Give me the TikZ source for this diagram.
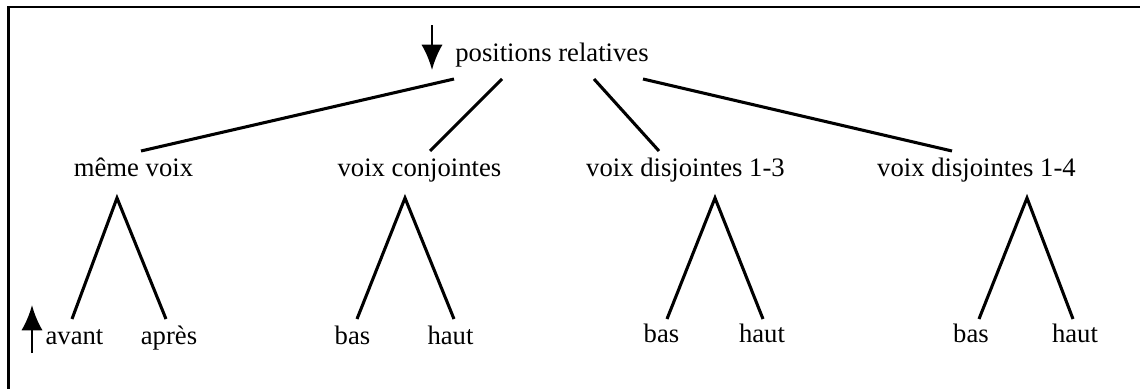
\documentclass[tikz,border=0pt]{standalone}
\usepackage{fontspec}
\setmainfont{Liberation Serif}
\usetikzlibrary{arrows.meta}
\tikzset{
  lbl/.style={inner sep=0pt, anchor=base, font=\fontsize{20}{24}\selectfont},
  branch/.style={line width=2.3pt},
  frameline/.style={line width=1.6pt},
  pointer/.style={line width=2pt, -{Latex[length=19pt, width=16pt]}}
}
\begin{document}
\begin{tikzpicture}[x=0.75pt, y=-0.75pt]
\useasboundingbox (0,0) rectangle (1140,389);
% frame (only top and left edges visible)
\coordinate (fr) at (1140,7);
\coordinate (fc) at (8.5,7);
\coordinate (fb) at (8.5,389);
\draw[frameline] (fr) -- (fc) -- (fb);

% labels
\node[lbl] (root) at (552,61) {positions relatives};
\node[lbl] (m1) at (133.5,176) {même voix};
\node[lbl] (m2) at (419.5,176) {voix conjointes};
\node[lbl] (m3) at (685.5,176) {voix disjointes 1-3};
\node[lbl] (m4) at (976.5,176) {voix disjointes 1-4};
\node[lbl] (l1) at (74.5,344) {avant};
\node[lbl] (r1) at (169,344) {après};
\node[lbl] (l2) at (352.5,344) {bas};
\node[lbl] (r2) at (450.5,344) {haut};
\node[lbl] (l3) at (661.5,342) {bas};
\node[lbl] (r3) at (762,342) {haut};
\node[lbl] (l4) at (971,342) {bas};
\node[lbl] (r4) at (1075,342) {haut};

% connector end points
\coordinate (t1) at (454,79);  \coordinate (b1) at (141,151);
\coordinate (t2) at (502,79);  \coordinate (b2) at (430,151);
\coordinate (t3) at (594,79);  \coordinate (b3) at (659,151);
\coordinate (t4) at (643,79);  \coordinate (b4) at (952,151);

\coordinate (a1) at (117,198); \coordinate (al1) at (72,319);  \coordinate (ar1) at (166,319);
\coordinate (a2) at (405,198); \coordinate (al2) at (357,319); \coordinate (ar2) at (454,319);
\coordinate (a3) at (715,198); \coordinate (al3) at (667,319); \coordinate (ar3) at (763,319);
\coordinate (a4) at (1027,198);\coordinate (al4) at (979,319); \coordinate (ar4) at (1073,319);

\draw[branch] (t1) -- (b1);
\draw[branch] (t2) -- (b2);
\draw[branch] (t3) -- (b3);
\draw[branch] (t4) -- (b4);

\draw[branch] (al1) -- (a1) -- (ar1);
\draw[branch] (al2) -- (a2) -- (ar2);
\draw[branch] (al3) -- (a3) -- (ar3);
\draw[branch] (al4) -- (a4) -- (ar4);

% arrows
\coordinate (dA) at (432,25);  \coordinate (dB) at (432,70);
\coordinate (uA) at (32,353);  \coordinate (uB) at (32,305);
\draw[pointer] (dA) -- (dB);
\draw[pointer] (uA) -- (uB);
\end{tikzpicture}
\end{document}
